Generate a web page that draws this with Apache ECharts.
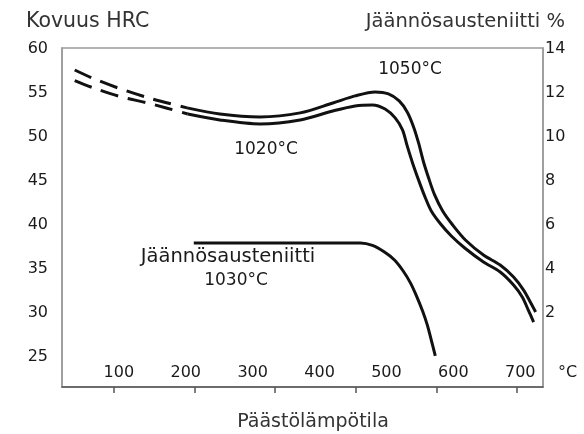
<!DOCTYPE html>
<html>
<head>
<meta charset="utf-8">
<script src="https://cdn.jsdelivr.net/npm/echarts@6/dist/echarts.min.js"></script>
<style>
html,body{margin:0;padding:0;background:#fff;}
#chart{width:584px;height:434px;}
</style>
</head>
<body>
<div id="chart"></div>
<script>
// ---- data ----
const xTickLabels = [100, 200, 300, 400, 500, 600, 700];
const xTickMarks = [100, 200, 300, 400, 500, 600];
const hrcTickLabels = [25, 30, 35, 40, 45, 50, 55, 60];
const raTickLabels = [2, 4, 6, 8, 10, 12, 14];

// 1050 °C hardness curve (HRC)
const temps1050Dash = [34, 60, 101, 146, 202];
const hrc1050Dash = [57.6, 56.7, 55.5, 54.4, 53.3];
const temps1050 = [202, 251, 311, 371, 420, 453, 483, 503, 519, 531, 540, 548, 555, 563, 572, 584, 599, 618, 645, 670, 690, 705, 715, 723];
const hrc1050 = [53.3, 52.6, 52.27, 52.73, 53.86, 54.66, 55.11, 54.89, 54.09, 52.84, 51.25, 49.32, 47.27, 45.34, 43.41, 41.59, 40.0, 38.3, 36.59, 35.45, 34.09, 32.61, 31.25, 30.11];

// 1020 °C hardness curve (HRC)
const temps1020Dash = [34, 61, 101, 146, 203];
const hrc1020Dash = [56.4, 55.6, 54.6, 53.8, 52.6];
const temps1020 = [203, 251, 311, 371, 420, 453, 479, 498, 513, 524, 531, 539, 548, 557, 567, 581, 597, 617, 645, 670, 690, 703, 712, 720];
const hrc1020 = [52.6, 51.93, 51.48, 51.93, 52.95, 53.52, 53.64, 53.18, 52.16, 50.8, 48.98, 47.05, 45.11, 43.3, 41.59, 40.11, 38.75, 37.39, 35.8, 34.66, 33.18, 31.82, 30.34, 28.98];

// Retained austenite 1030 °C (%)
const tempsRA = [212, 461, 479, 497, 512, 525, 536, 545, 554, 561, 567, 573];
const pctRA = [5.18, 5.18, 5.07, 4.77, 4.41, 3.91, 3.36, 2.77, 2.09, 1.46, 0.77, 0.05];

// ---- chart ----
const pairs = (xs, ys) => xs.map((x, i) => [x, ys[i]]);
const FONT = '"DejaVu Sans", sans-serif';
const INK = '#111';

function line(xs, ys, yIdx, dashed) {
  return {
    type: 'line', xAxisIndex: 0, yAxisIndex: yIdx,
    data: pairs(xs, ys), smooth: 0.3, symbol: 'none', showSymbol: false,
    silent: true, animation: false,
    lineStyle: { color: INK, width: 3, type: dashed ? [18, 10] : 'solid', cap: 'butt' }
  };
}

function txt(x, y, text, size, align, color) {
  return {
    type: 'text', x: x, y: y, silent: true,
    style: {
      text: text, font: size + 'px ' + FONT, fill: color || '#1a1a1a',
      textAlign: align, textVerticalAlign: 'middle', align: align, verticalAlign: 'middle'
    }
  };
}

const chart = echarts.init(document.getElementById('chart'), null, { renderer: 'canvas' });
chart.setOption({
  animation: false,
  backgroundColor: '#fff',
  grid: { left: 62, right: 41, top: 48, bottom: 47, show: true, borderColor: '#9a9a9a', borderWidth: 1.5 },
  xAxis: [
    {
      type: 'value', min: 15, max: 734, position: 'bottom',
      axisLine: { show: true, onZero: false, lineStyle: { color: '#555', width: 1.5 } },
      axisTick: { show: false },
      splitLine: { show: false },
      axisLabel: { inside: true, margin: 6, customValues: xTickLabels, color: '#1a1a1a', fontSize: 16, fontFamily: FONT }
    },
    {
      type: 'value', min: 35.5, max: 632.3, position: 'bottom',
      axisLine: { show: false, onZero: false },
      axisTick: { show: true, length: 6, customValues: xTickMarks, lineStyle: { color: '#555', width: 1.5 } },
      axisLabel: { show: false },
      splitLine: { show: false }
    }
  ],
  yAxis: [
    {
      type: 'value', min: 21.6, max: 60.1, position: 'left',
      axisLine: { show: true, onZero: false, lineStyle: { color: '#9a9a9a', width: 1.5 } },
      axisTick: { show: false },
      splitLine: { show: false },
      axisLabel: { margin: 14, customValues: hrcTickLabels, color: '#1a1a1a', fontSize: 16, fontFamily: FONT }
    },
    {
      type: 'value', min: -1.36, max: 14.04, position: 'right',
      axisLine: { show: true, onZero: false, lineStyle: { color: '#9a9a9a', width: 1.5 } },
      axisTick: { show: false },
      splitLine: { show: false },
      axisLabel: { margin: 2, customValues: raTickLabels, color: '#1a1a1a', fontSize: 16, fontFamily: FONT }
    }
  ],
  series: [
    line(temps1050Dash, hrc1050Dash, 0, true),
    line(temps1050, hrc1050, 0, false),
    line(temps1020Dash, hrc1020Dash, 0, true),
    line(temps1020, hrc1020, 0, false),
    line(tempsRA, pctRA, 1, false)
  ],
  graphic: [
    txt(26, 22, 'Kovuus HRC', 20.5, 'left', '#333'),
    txt(565, 22, 'Jäännösausteniitti %', 19.5, 'right', '#333'),
    txt(313, 422, 'Päästölämpötila', 19, 'center', '#333'),
    txt(558, 373, '°C', 16, 'left'),
    txt(410, 70, '1050°C', 17, 'center'),
    txt(266, 150, '1020°C', 17, 'center'),
    txt(228, 257, 'Jäännösausteniitti', 19.5, 'center'),
    txt(236, 281, '1030°C', 17, 'center')
  ]
});
</script>
</body>
</html>
